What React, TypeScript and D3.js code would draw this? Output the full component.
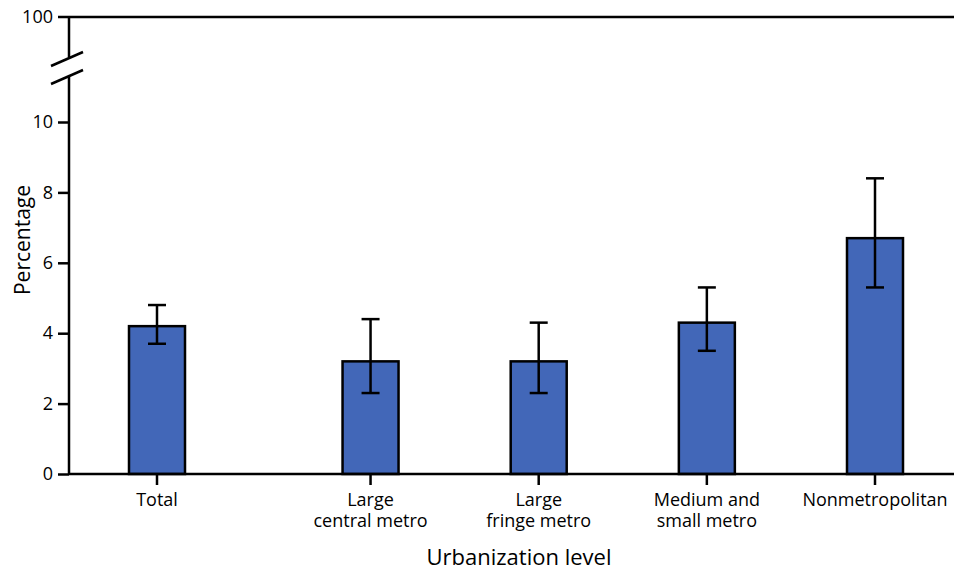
import React, { useRef, useEffect } from "react";
import * as d3 from "d3";

const categories = ["Total", "Large central metro", "Large fringe metro", "Medium and small metro", "Nonmetropolitan"];
const labelLines = [["Total"], ["Large", "central metro"], ["Large", "fringe metro"], ["Medium and", "small metro"], ["Nonmetropolitan"]];
const values = [4.2, 3.2, 3.2, 4.3, 6.7];
const lower = [3.7, 2.3, 2.3, 3.5, 5.3];
const upper = [4.8, 4.4, 4.3, 5.3, 8.4];
const yTicks = [0, 2, 4, 6, 8, 10];

const App = () => {
  const svgRef = useRef<SVGSVGElement>(null);

  useEffect(() => {
    const width = 954;
    const height = 571;
    const marginLeft = 69;
    const marginTop = 17;
    const y0 = 474;
    const font = "'Open Sans', sans-serif";

    const svg = d3.select(svgRef.current);
    svg.selectAll("*").remove();
    svg.attr("viewBox", [0, 0, width, height]).attr("width", width).attr("height", height);

    // y scale for the lower (0-10) part, the 100 tick sits above a break
    const y = d3.scaleLinear().domain([0, 10]).range([y0, 122]);

    // Total is set apart from the urbanization groups by an extra gap
    const x = d3.scaleLinear().domain([0, 4.27]).range([157, 875]);
    const slot = (i: number) => x(i === 0 ? 0 : i + 0.27);
    const barW = 56;
    const capW = 18;

    const data = categories.map((c, i) => ({ c, i, v: values[i], lo: lower[i], hi: upper[i] }));

    // bars
    svg.append("g")
      .selectAll("rect")
      .data(data)
      .join("rect")
      .attr("x", d => slot(d.i) - barW / 2)
      .attr("y", d => y(d.v))
      .attr("width", barW)
      .attr("height", d => y(0) - y(d.v))
      .attr("fill", "#4267b8")
      .attr("stroke", "#000")
      .attr("stroke-width", 2.5);

    // error bars
    const err = svg.append("g").attr("stroke", "#000").attr("stroke-width", 2.5);
    data.forEach(d => {
      const cx = slot(d.i);
      err.append("line").attr("x1", cx).attr("x2", cx).attr("y1", y(d.lo)).attr("y2", y(d.hi));
      err.append("line").attr("x1", cx - capW / 2).attr("x2", cx + capW / 2).attr("y1", y(d.lo)).attr("y2", y(d.lo));
      err.append("line").attr("x1", cx - capW / 2).attr("x2", cx + capW / 2).attr("y1", y(d.hi)).attr("y2", y(d.hi));
    });

    // y axis (lower part)
    svg.append("g")
      .attr("transform", `translate(${marginLeft},0)`)
      .call(d3.axisLeft(y).tickValues(yTicks).tickSize(11).tickPadding(5).tickSizeOuter(0))
      .call(g => g.select(".domain").attr("d", `M0,${y0}V77`))
      .call(g => g.selectAll("line, path").attr("stroke", "#000").attr("stroke-width", 2.5))
      .call(g => g.selectAll("text").attr("font-family", font).attr("font-size", 18).attr("fill", "#000"));

    // upper part with 100 tick and axis break
    const top = svg.append("g").attr("stroke", "#000").attr("stroke-width", 2.5);
    top.append("line").attr("x1", marginLeft).attr("x2", marginLeft).attr("y1", marginTop).attr("y2", 57);
    top.append("line").attr("x1", marginLeft - 11).attr("x2", width).attr("y1", marginTop).attr("y2", marginTop);
    top.append("line").attr("x1", 51).attr("x2", 83).attr("y1", 66).attr("y2", 52);
    top.append("line").attr("x1", 51).attr("x2", 83).attr("y1", 84).attr("y2", 70);
    svg.append("text")
      .attr("x", marginLeft - 16).attr("y", marginTop).attr("dy", "0.32em")
      .attr("text-anchor", "end").attr("font-family", font).attr("font-size", 18)
      .text("100");

    // x axis
    svg.append("line")
      .attr("x1", marginLeft).attr("x2", width).attr("y1", y0).attr("y2", y0)
      .attr("stroke", "#000").attr("stroke-width", 2.5);
    const xt = svg.append("g");
    data.forEach(d => {
      const cx = slot(d.i);
      xt.append("line").attr("x1", cx).attr("x2", cx).attr("y1", y0).attr("y2", y0 + 11)
        .attr("stroke", "#000").attr("stroke-width", 2.5);
      labelLines[d.i].forEach((ln, k) => {
        xt.append("text")
          .attr("x", cx).attr("y", 506 + k * 21)
          .attr("text-anchor", "middle").attr("font-family", font).attr("font-size", 18)
          .text(ln);
      });
    });

    // axis titles
    svg.append("text")
      .attr("transform", `translate(30,240) rotate(-90)`)
      .attr("text-anchor", "middle").attr("font-family", font).attr("font-size", 21)
      .text("Percentage");
    svg.append("text")
      .attr("x", 519).attr("y", 565)
      .attr("text-anchor", "middle").attr("font-family", font).attr("font-size", 22)
      .text("Urbanization level");
  }, []);

  return (
    <svg ref={svgRef} style={{ position: "absolute", left: 0, top: 0, display: "block" }} />
  );
};

export default App;
